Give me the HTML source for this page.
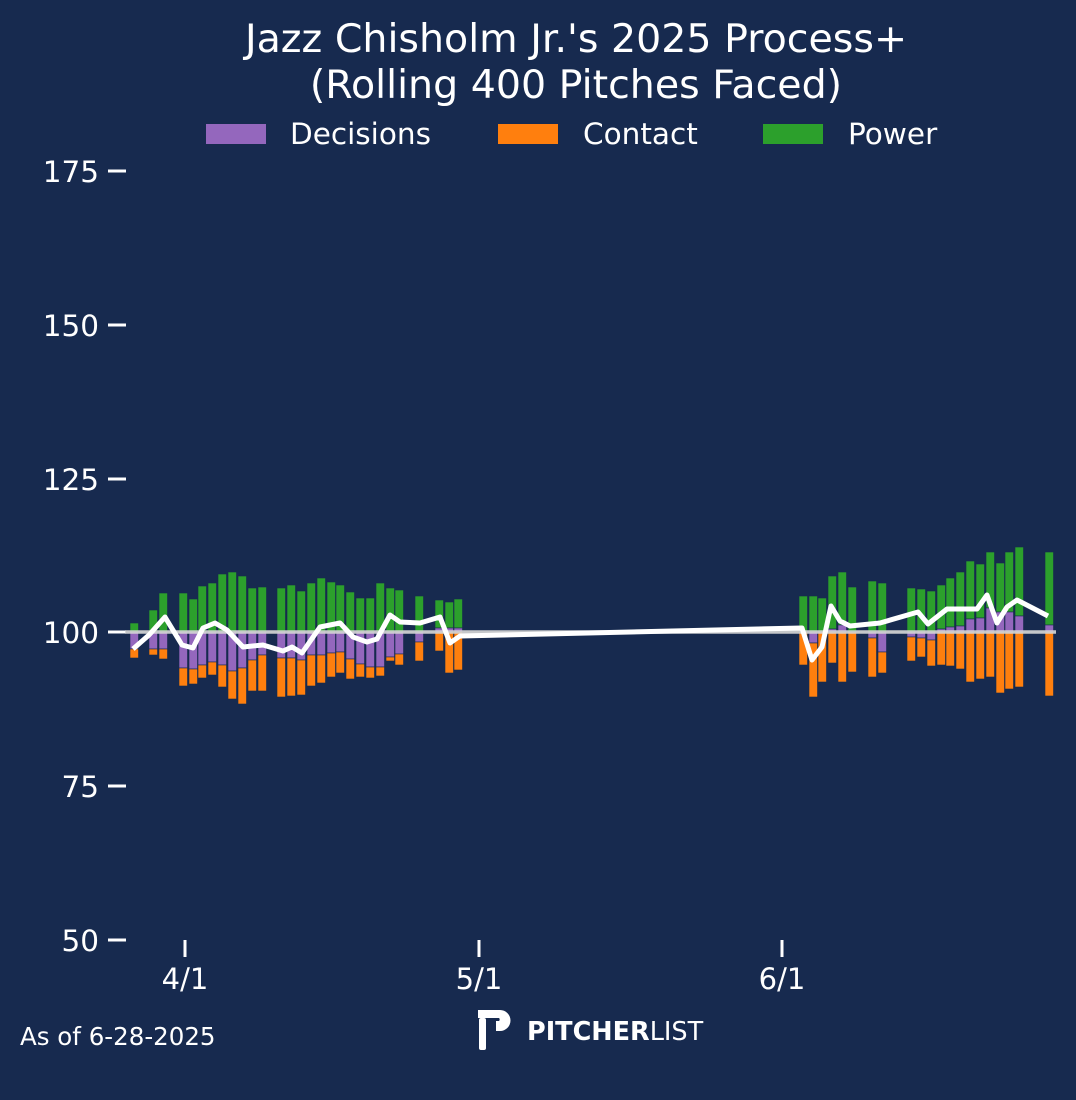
<!DOCTYPE html>
<html><head><meta charset="utf-8"><style>
html,body{margin:0;padding:0;background:#172a4f;}
svg{display:block}
text{font-family:"DejaVu Sans","Liberation Sans",sans-serif;fill:#fff}
</style></head><body>
<svg width="1076" height="1100" viewBox="0 0 1076 1100" xmlns="http://www.w3.org/2000/svg">
<rect width="1076" height="1100" fill="#172a4f"/>
<text x="576" y="52" font-size="39.5" text-anchor="middle">Jazz Chisholm Jr.'s 2025 Process+</text>
<text x="576" y="98" font-size="39.5" text-anchor="middle">(Rolling 400 Pitches Faced)</text>
<rect x="206" y="124" width="60" height="20" fill="#9467bd"/><text x="290" y="144" font-size="29.5">Decisions</text>
<rect x="498" y="124" width="60" height="20" fill="#ff7f0e"/><text x="583" y="144" font-size="29.5">Contact</text>
<rect x="763" y="124" width="60" height="20" fill="#2ca02c"/><text x="848" y="144" font-size="29.5">Power</text>
<g font-size="29.5" text-anchor="end">
<text x="99" y="182">175</text><text x="99" y="336">150</text><text x="99" y="490">125</text><text x="99" y="643">100</text><text x="99" y="797">75</text><text x="99" y="951">50</text>
</g>
<g stroke="#fff" stroke-width="3">
<line x1="108" y1="171" x2="126" y2="171"/><line x1="108" y1="325" x2="126" y2="325"/><line x1="108" y1="479" x2="126" y2="479"/><line x1="108" y1="632" x2="126" y2="632"/><line x1="108" y1="786" x2="126" y2="786"/><line x1="108" y1="940" x2="126" y2="940"/>
<line x1="185" y1="940" x2="185" y2="957"/><line x1="479" y1="940" x2="479" y2="957"/><line x1="782" y1="940" x2="782" y2="957"/>
</g>
<g font-size="29" text-anchor="middle"><text x="185" y="989">4/1</text><text x="479" y="989">5/1</text><text x="782" y="989">6/1</text></g>
<g stroke="#172a4f" stroke-width="0.6">
<g fill="#2ca02c">
<rect x="130" y="623" width="8.5" height="9"/><rect x="149" y="610" width="8.5" height="22"/><rect x="159" y="593" width="8.5" height="39"/><rect x="179" y="593" width="8.5" height="39"/><rect x="189" y="599" width="8.5" height="33"/><rect x="198" y="586" width="8.5" height="46"/><rect x="208" y="583" width="8.5" height="49"/><rect x="218" y="574" width="8.5" height="58"/><rect x="228" y="572" width="8.5" height="60"/><rect x="238" y="576" width="8.5" height="56"/><rect x="248" y="588" width="8.5" height="44"/><rect x="258" y="587" width="8.5" height="45"/>
<rect x="277" y="588" width="8.5" height="44"/><rect x="287" y="585" width="8.5" height="47"/><rect x="297" y="591" width="8.5" height="41"/><rect x="307" y="583" width="8.5" height="49"/><rect x="317" y="578" width="8.5" height="54"/><rect x="327" y="582" width="8.5" height="50"/><rect x="336" y="585" width="8.5" height="47"/><rect x="346" y="592" width="8.5" height="40"/><rect x="356" y="598" width="8.5" height="34"/><rect x="366" y="598" width="8.5" height="34"/><rect x="376" y="583" width="8.5" height="49"/><rect x="386" y="588" width="8.5" height="44"/><rect x="395" y="590" width="8.5" height="42"/>
<rect x="415" y="596" width="8.5" height="36"/><rect x="435" y="600" width="8.5" height="28"/><rect x="445" y="602" width="8.5" height="26"/><rect x="454" y="599" width="8.5" height="29"/>
</g>
<g fill="#9467bd">
<rect x="130" y="632" width="8.5" height="17"/><rect x="149" y="632" width="8.5" height="17"/><rect x="159" y="632" width="8.5" height="17"/><rect x="179" y="632" width="8.5" height="36"/><rect x="189" y="632" width="8.5" height="37"/><rect x="198" y="632" width="8.5" height="33"/><rect x="208" y="632" width="8.5" height="30"/><rect x="218" y="632" width="8.5" height="33"/><rect x="228" y="632" width="8.5" height="39"/><rect x="238" y="632" width="8.5" height="36"/><rect x="248" y="632" width="8.5" height="28"/><rect x="258" y="632" width="8.5" height="23"/>
<rect x="277" y="632" width="8.5" height="26"/><rect x="287" y="632" width="8.5" height="26"/><rect x="297" y="632" width="8.5" height="28"/><rect x="307" y="632" width="8.5" height="23"/><rect x="317" y="632" width="8.5" height="23"/><rect x="327" y="632" width="8.5" height="21"/><rect x="336" y="632" width="8.5" height="20"/><rect x="346" y="632" width="8.5" height="27"/><rect x="356" y="632" width="8.5" height="32"/><rect x="366" y="632" width="8.5" height="35"/><rect x="376" y="632" width="8.5" height="35"/><rect x="386" y="632" width="8.5" height="25"/><rect x="395" y="632" width="8.5" height="22"/>
<rect x="415" y="632" width="8.5" height="10"/><rect x="435" y="628" width="8.5" height="4"/><rect x="445" y="628" width="8.5" height="4"/><rect x="454" y="628" width="8.5" height="4"/>
</g>
<g fill="#ff7f0e">
<rect x="130" y="649" width="8.5" height="9"/><rect x="149" y="649" width="8.5" height="6"/><rect x="159" y="649" width="8.5" height="10"/><rect x="179" y="668" width="8.5" height="18"/><rect x="189" y="669" width="8.5" height="15"/><rect x="198" y="665" width="8.5" height="13"/><rect x="208" y="662" width="8.5" height="13"/><rect x="218" y="665" width="8.5" height="22"/><rect x="228" y="671" width="8.5" height="28"/><rect x="238" y="668" width="8.5" height="36"/><rect x="248" y="660" width="8.5" height="31"/><rect x="258" y="655" width="8.5" height="36"/>
<rect x="277" y="658" width="8.5" height="39"/><rect x="287" y="658" width="8.5" height="38"/><rect x="297" y="660" width="8.5" height="35"/><rect x="307" y="655" width="8.5" height="31"/><rect x="317" y="655" width="8.5" height="28"/><rect x="327" y="653" width="8.5" height="24"/><rect x="336" y="652" width="8.5" height="21"/><rect x="346" y="659" width="8.5" height="20"/><rect x="356" y="664" width="8.5" height="13"/><rect x="366" y="667" width="8.5" height="11"/><rect x="376" y="667" width="8.5" height="9"/><rect x="386" y="657" width="8.5" height="4"/><rect x="395" y="654" width="8.5" height="11"/>
<rect x="415" y="642" width="8.5" height="19"/><rect x="435" y="632" width="8.5" height="19"/><rect x="445" y="632" width="8.5" height="41"/><rect x="454" y="632" width="8.5" height="38"/>
</g>
<g fill="#2ca02c">
<rect x="799" y="596" width="8.5" height="36"/><rect x="809" y="596" width="8.5" height="36"/><rect x="818" y="598" width="8.5" height="34"/><rect x="828" y="576" width="8.5" height="53"/><rect x="838" y="572" width="8.5" height="53"/><rect x="848" y="587" width="8.5" height="45"/>
<rect x="868" y="581" width="8.5" height="51"/><rect x="878" y="583" width="8.5" height="49"/>
<rect x="907" y="588" width="8.5" height="44"/><rect x="917" y="589" width="8.5" height="43"/><rect x="927" y="591" width="8.5" height="41"/><rect x="937" y="585" width="8.5" height="44"/><rect x="946" y="578" width="8.5" height="49"/><rect x="956" y="572" width="8.5" height="54"/><rect x="966" y="561" width="8.5" height="58"/><rect x="976" y="564" width="8.5" height="54"/><rect x="986" y="552" width="8.5" height="56"/><rect x="996" y="563" width="8.5" height="49"/><rect x="1005" y="552" width="8.5" height="60"/><rect x="1015" y="547" width="8.5" height="69"/>
<rect x="1045" y="552" width="8.5" height="73"/>
</g>
<g fill="#9467bd">
<rect x="809" y="632" width="8.5" height="11"/><rect x="828" y="629" width="8.5" height="3"/><rect x="838" y="625" width="8.5" height="7"/>
<rect x="868" y="632" width="8.5" height="6"/><rect x="878" y="632" width="8.5" height="20"/>
<rect x="907" y="632" width="8.5" height="5"/><rect x="917" y="632" width="8.5" height="6"/><rect x="927" y="632" width="8.5" height="8"/><rect x="937" y="629" width="8.5" height="3"/><rect x="946" y="627" width="8.5" height="5"/><rect x="956" y="626" width="8.5" height="6"/><rect x="966" y="619" width="8.5" height="13"/><rect x="976" y="618" width="8.5" height="14"/><rect x="986" y="608" width="8.5" height="24"/><rect x="996" y="612" width="8.5" height="20"/><rect x="1005" y="612" width="8.5" height="20"/><rect x="1015" y="616" width="8.5" height="16"/>
<rect x="1045" y="625" width="8.5" height="7"/>
</g>
<g fill="#ff7f0e">
<rect x="799" y="632" width="8.5" height="33"/><rect x="809" y="643" width="8.5" height="54"/><rect x="818" y="632" width="8.5" height="50"/><rect x="828" y="632" width="8.5" height="31"/><rect x="838" y="632" width="8.5" height="50"/><rect x="848" y="632" width="8.5" height="40"/>
<rect x="868" y="638" width="8.5" height="39"/><rect x="878" y="652" width="8.5" height="21"/>
<rect x="907" y="637" width="8.5" height="24"/><rect x="917" y="638" width="8.5" height="19"/><rect x="927" y="640" width="8.5" height="26"/><rect x="937" y="632" width="8.5" height="33"/><rect x="946" y="632" width="8.5" height="34"/><rect x="956" y="632" width="8.5" height="37"/><rect x="966" y="632" width="8.5" height="50"/><rect x="976" y="632" width="8.5" height="47"/><rect x="986" y="632" width="8.5" height="45"/><rect x="996" y="632" width="8.5" height="61"/><rect x="1005" y="632" width="8.5" height="57"/><rect x="1015" y="632" width="8.5" height="55"/>
<rect x="1045" y="632" width="8.5" height="64"/>
</g>
</g>
<line x1="125" y1="632" x2="1056" y2="632" stroke="#d8d8d8" stroke-width="3.5" opacity="0.9"/>
<polyline fill="none" stroke="#fff" stroke-width="5" stroke-linejoin="round" points="133,649 149,635 165,617 182,645 193,648 203,628 215,623 227,630 243,647 263,645 283,651 292,647 302,653 320,627 340,623 353,637 367,642 377,639 390,615 400,622 420,623 440,617 450,643 460,636 802,628 812,660 822,647 831,606 840,621 850,626 880,623 918,612 928,624 947,609 977,609 987,595 997,623 1007,607 1017,600 1048,616"/>
<text x="20" y="1045" font-size="24.5">As of 6-28-2025</text>
<path d="M478,1010 h22 a10,10 0 0 1 0,21 h-4 v-10 h3 a2,2 0 0 0 0,-3 h-21 z" fill="#fff"/>
<rect x="479" y="1018" width="7" height="32" rx="2" fill="#fff"/>
<text x="527" y="1040" font-size="25.5" font-weight="bold">PITCHER<tspan font-weight="normal">LIST</tspan></text>
</svg>
</body></html>
